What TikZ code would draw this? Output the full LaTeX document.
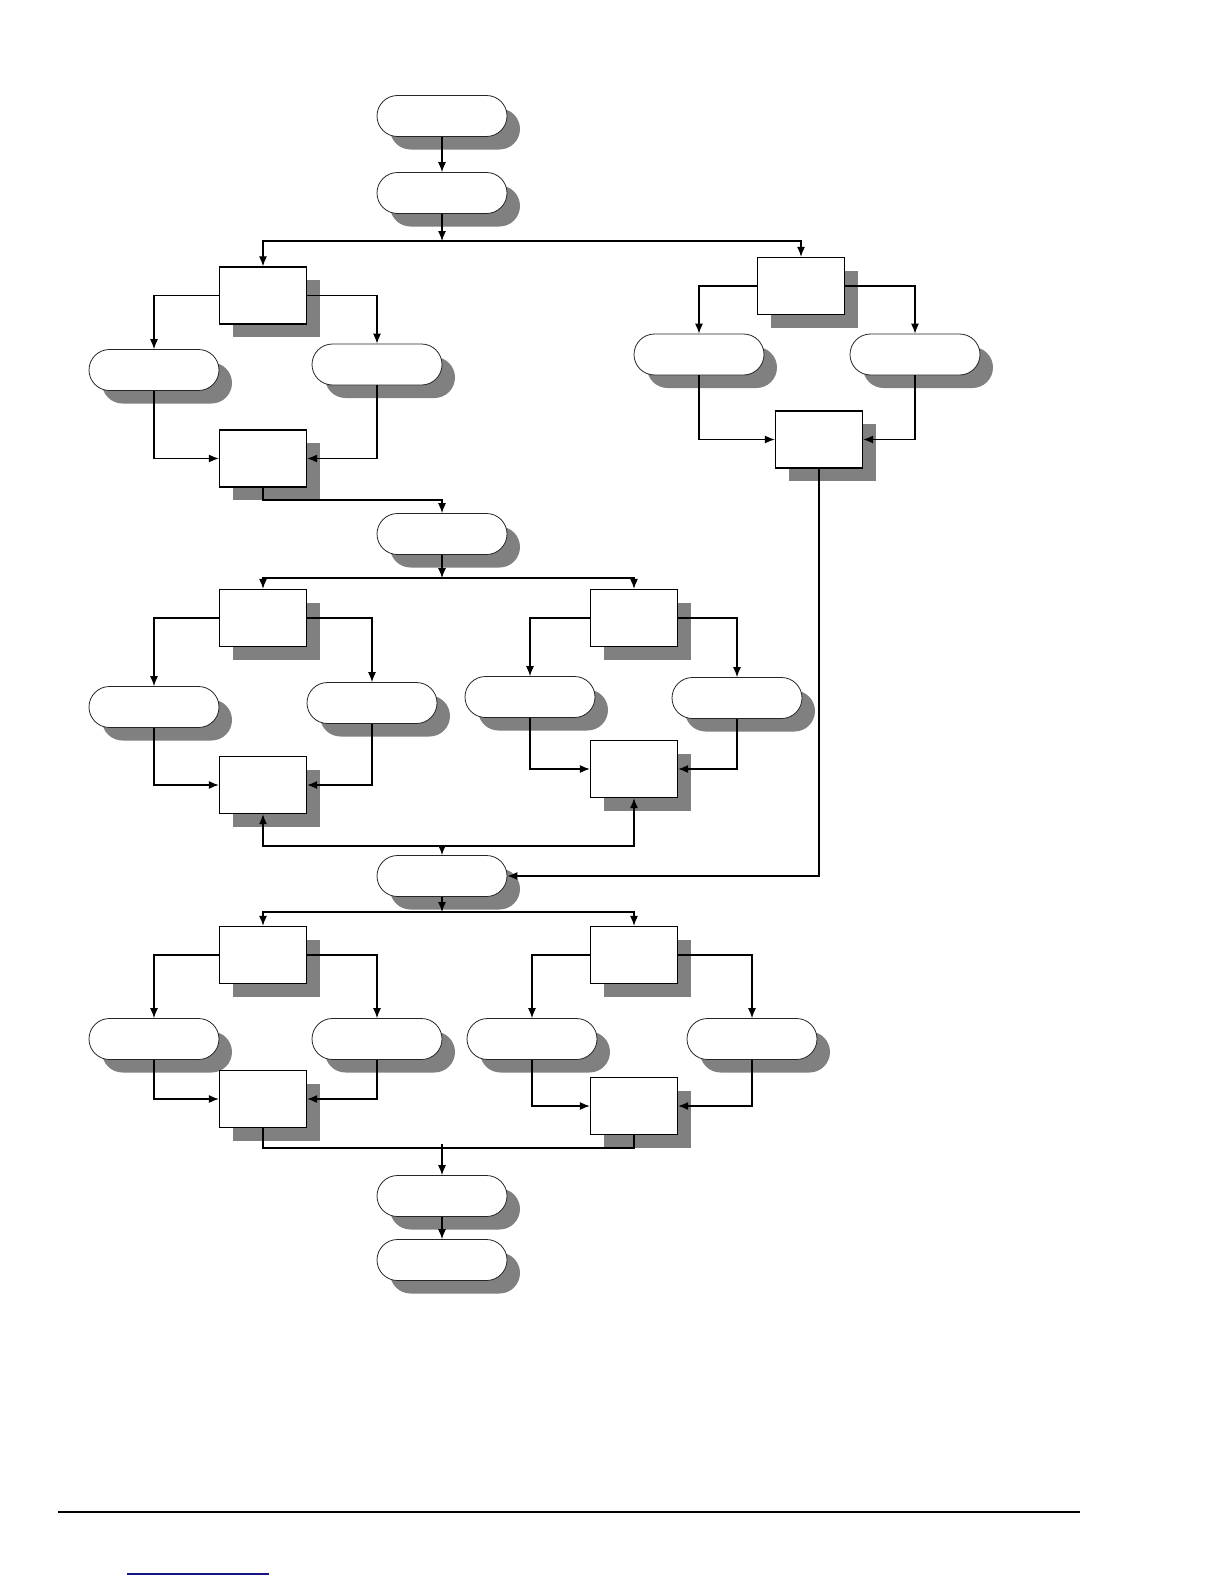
\documentclass[tikz,border=0pt]{standalone}
\usetikzlibrary{shadows,arrows.meta}
\definecolor{shadowgray}{RGB}{128,128,128}
\definecolor{linkblue}{RGB}{20,20,130}
\tikzset{
  shade/.style={drop shadow={shadow xshift=6.5pt,shadow yshift=-6.5pt,fill=shadowgray,opacity=1}},
  term/.style={draw=black!85,line width=0.4pt,fill=white,shade,inner sep=0pt,
    minimum width=65pt,minimum height=20.5pt,rounded corners=10.25pt},
  proc/.style={draw,line width=0.7pt,fill=white,shade,inner sep=0pt,
    minimum width=43.5pt,minimum height=28.5pt},
  arr/.style={->,>={Latex[length=5pt,width=4pt]},line width=0.55pt}
}
\begin{document}
\begin{tikzpicture}[x=0.5pt,y=-0.5pt]
\useasboundingbox (0,0) rectangle (1224,1584);

% main column
\node[term] (t1) at (442,116) {};
\node[term] (t2) at (442,193) {};
\node[term] (t3) at (442,534) {};
\node[term] (t4) at (442,876) {};
\node[term] (t5) at (442,1196) {};
\node[term] (t6) at (442,1260) {};

% upper left group
\node[proc] (bA) at (263,295.5) {};
\node[term] (tA1) at (154,370) {};
\node[term] (tA2) at (377,364.5) {};
\node[proc] (bA2) at (263,458.5) {};

% upper right group
\node[proc] (bB) at (801,286) {};
\node[term] (tB1) at (699,354.5) {};
\node[term] (tB2) at (915,354.5) {};
\node[proc] (bB2) at (819,439.5) {};

% middle groups
\node[proc] (bC) at (263,618) {};
\node[term] (tC1) at (154,707) {};
\node[term] (tC2) at (372,703) {};
\node[proc] (bC2) at (263,785) {};
\node[proc] (bD) at (634,618) {};
\node[term] (tD1) at (530,697) {};
\node[term] (tD2) at (737,698) {};
\node[proc] (bD2) at (634,769) {};

% lower groups
\node[proc] (bE) at (263,955) {};
\node[term] (tE1) at (154,1039) {};
\node[term] (tE2) at (377,1039) {};
\node[proc] (bE2) at (263,1099) {};
\node[proc] (bF) at (634,955) {};
\node[term] (tF1) at (532,1039) {};
\node[term] (tF2) at (752,1039) {};
\node[proc] (bF2) at (634,1106) {};

% junctions
\coordinate (j1) at (442,241);
\coordinate (k1) at (442,500);
\coordinate (j2) at (442,578);
\coordinate (j3) at (442,846);
\coordinate (j4) at (442,912);
\coordinate (j5) at (442,1148);

\draw[arr] (t1) -- (t2);
\draw[arr] (t2) -- (j1);
\draw[arr] (j1) -| (bA.north);
\draw[arr] (j1) -| (bB.north);

\draw[arr] (bA.west) -| (tA1.north);
\draw[arr] (bA.east) -| (tA2.north);
\draw[arr] (tA1.south) |- (bA2.west);
\draw[arr] (tA2.south) |- (bA2.east);
\draw[arr] (bA2.south) |- (k1) -- (t3.north);

\draw[arr] (bB.west) -| (tB1.north);
\draw[arr] (bB.east) -| (tB2.north);
\draw[arr] (tB1.south) |- (bB2.west);
\draw[arr] (tB2.south) |- (bB2.east);
\draw[arr] (bB2.south) |- (t4.east);

\draw[arr] (t3) -- (j2);
\draw[arr] (j2) -| (bC.north);
\draw[arr] (j2) -| (bD.north);
\draw[arr] (bC.west) -| (tC1.north);
\draw[arr] (bC.east) -| (tC2.north);
\draw[arr] (tC1.south) |- (bC2.west);
\draw[arr] (tC2.south) |- (bC2.east);
\draw[arr] (bD.west) -| (tD1.north);
\draw[arr] (bD.east) -| (tD2.north);
\draw[arr] (tD1.south) |- (bD2.west);
\draw[arr] (tD2.south) |- (bD2.east);
\draw[arr] (j3) -| (bC2.south);
\draw[arr] (j3) -| (bD2.south);
\draw[arr] (j3) -- (t4.north);

\draw[arr] (t4) -- (j4);
\draw[arr] (j4) -| (bE.north);
\draw[arr] (j4) -| (bF.north);
\draw[arr] (bE.west) -| (tE1.north);
\draw[arr] (bE.east) -| (tE2.north);
\draw[arr] (tE1.south) |- (bE2.west);
\draw[arr] (tE2.south) |- (bE2.east);
\draw[arr] (bF.west) -| (tF1.north);
\draw[arr] (bF.east) -| (tF2.north);
\draw[arr] (tF1.south) |- (bF2.west);
\draw[arr] (tF2.south) |- (bF2.east);
\draw[line width=0.55pt] (bE2.south) |- (j5) -| (bF2.south);
\draw[arr] ([yshift=2pt]j5) -- (t5);
\draw[arr] (t5) -- (t6);

% page footer
\draw[line width=1pt] (58,1512) -- (1080,1512);
\draw[linkblue,line width=0.6pt] (127,1574) -- (269,1574);
\end{tikzpicture}
\end{document}
